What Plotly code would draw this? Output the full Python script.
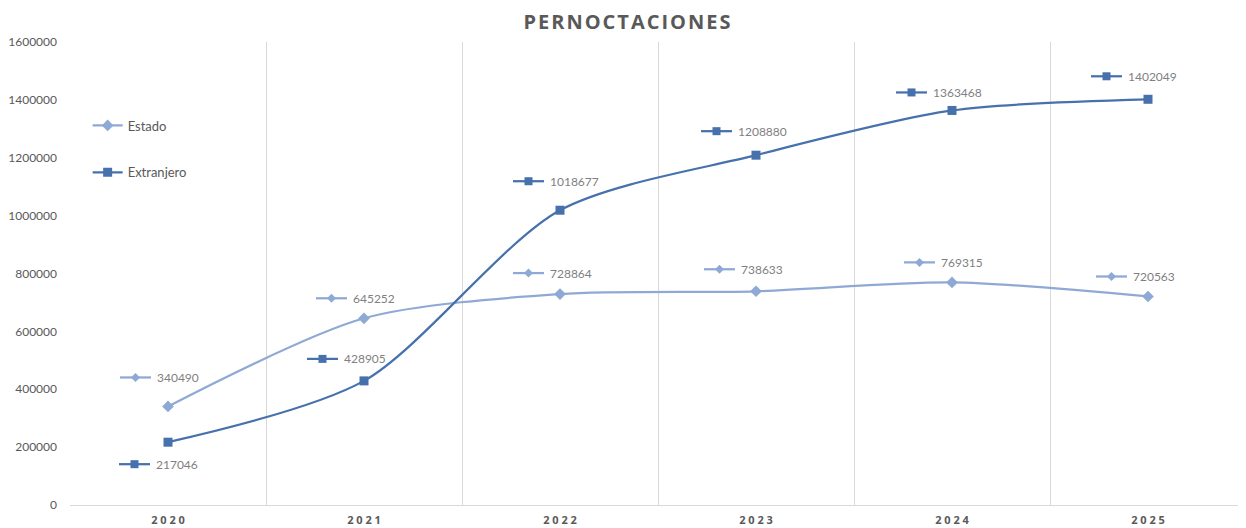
import plotly.graph_objects as go

years = ["2020", "2021", "2022", "2023", "2024", "2025"]
estado = [340490, 645252, 728864, 738633, 769315, 720563]
extranjero = [217046, 428905, 1018677, 1208880, 1363468, 1402049]

C_EST = "#8EA9D5"
C_EXT = "#4671AC"
GRAY = "#595959"
LBL = "#7F7F7F"
FONT = "Lato"

# label offsets in pixels (dx of key start from point, dy upward)
est_off = [(-48, 29), (-48, 20), (-47, 21), (-52, 22), (-48, 20), (-52, 20)]
ext_off = [(-49, -22), (-57, 22), (-47, 29), (-55, 24), (-56, 18), (-57, 23)]

xs = list(range(len(years)))

fig = go.Figure()
fig.add_trace(go.Scatter(
    x=xs, y=estado, name="Estado", mode="lines+markers",
    line=dict(color=C_EST, width=2.25, shape="spline", smoothing=0.8),
    marker=dict(symbol="diamond", size=9, color=C_EST),
    legendgroup="a"))
fig.add_trace(go.Scatter(
    x=xs, y=extranjero, name="Extranjero", mode="lines+markers",
    line=dict(color=C_EXT, width=2.25, shape="spline", smoothing=0.8),
    marker=dict(symbol="square", size=9, color=C_EXT),
    legendgroup="b"))

shapes = []
annotations = []


def add_label(i, v, off, color, sym):
    dx, dy = off
    shapes.append(dict(type="line", xref="x", yref="y",
                       xsizemode="pixel", ysizemode="pixel",
                       xanchor=i, yanchor=v,
                       x0=dx, x1=dx + 31, y0=dy, y1=dy,
                       line=dict(color=color, width=2.25), layer="above"))
    cx = dx + 15.5
    if sym == "square":
        shapes.append(dict(type="rect", xref="x", yref="y",
                           xsizemode="pixel", ysizemode="pixel",
                           xanchor=i, yanchor=v,
                           x0=cx - 4, x1=cx + 4, y0=dy - 4, y1=dy + 4,
                           fillcolor=color, line=dict(width=0), layer="above"))
    else:
        p = (f"M{cx-4.5},{dy} L{cx},{dy+4.5} L{cx+4.5},{dy} L{cx},{dy-4.5} Z")
        shapes.append(dict(type="path", xref="x", yref="y",
                           xsizemode="pixel", ysizemode="pixel",
                           xanchor=i, yanchor=v, path=p,
                           fillcolor=color, line=dict(width=0), layer="above"))
    annotations.append(dict(x=i, y=v, xref="x", yref="y",
                            text=f"{v}", showarrow=False,
                            xanchor="left", yanchor="middle",
                            xshift=dx + 35, yshift=dy,
                            font=dict(family=FONT, size=12, color=LBL)))


for i, v in enumerate(estado):
    add_label(i, v, est_off[i], C_EST, "diamond")
for i, v in enumerate(extranjero):
    add_label(i, v, ext_off[i], C_EXT, "square")

title_txt = "\u200a".join("PERNOCTACIONES")

# the page body adds an 8px margin, so the figure is sized to fit the window
fig.update_layout(
    width=1238, height=520,
    margin=dict(l=62, r=0, t=34, b=23, autoexpand=False),
    paper_bgcolor="white", plot_bgcolor="white",
    title=dict(text=title_txt, x=0.5, xref="container", xanchor="center",
               y=0.973, yref="container", yanchor="middle", automargin=False,
               font=dict(family="Open Sans", size=20, color=GRAY, weight="bold")),
    showlegend=True,
    legend=dict(x=0.015, y=0.852, xanchor="left", yanchor="top",
                bgcolor="rgba(0,0,0,0)", tracegroupgap=27,
                font=dict(family=FONT, size=13, color=GRAY),
                itemwidth=30),
    shapes=shapes, annotations=annotations,
    xaxis=dict(range=[-0.5, 5.5], tickvals=xs, ticktext=[" ".join(y) for y in years],
               showgrid=False, zeroline=False, automargin=False,
               showline=True, linecolor="#D9D9D9", linewidth=1,
               ticks="", ticklabelstandoff=5,
               tickfont=dict(family="Open Sans", size=11, color=GRAY, weight="bold"),
               minor=dict(tickvals=[-0.5, 0.5, 1.5, 2.5, 3.5, 4.5, 5.5],
                          showgrid=True, gridcolor="#D9D9D9", gridwidth=1, ticks="")),
    yaxis=dict(range=[0, 1600000], dtick=200000, tickformat="d",
               showgrid=False, zeroline=False, showline=False, automargin=False,
               ticks="", ticklabelstandoff=12,
               tickfont=dict(family=FONT, size=12, color=GRAY)),
)

fig.write_html("out.html")
